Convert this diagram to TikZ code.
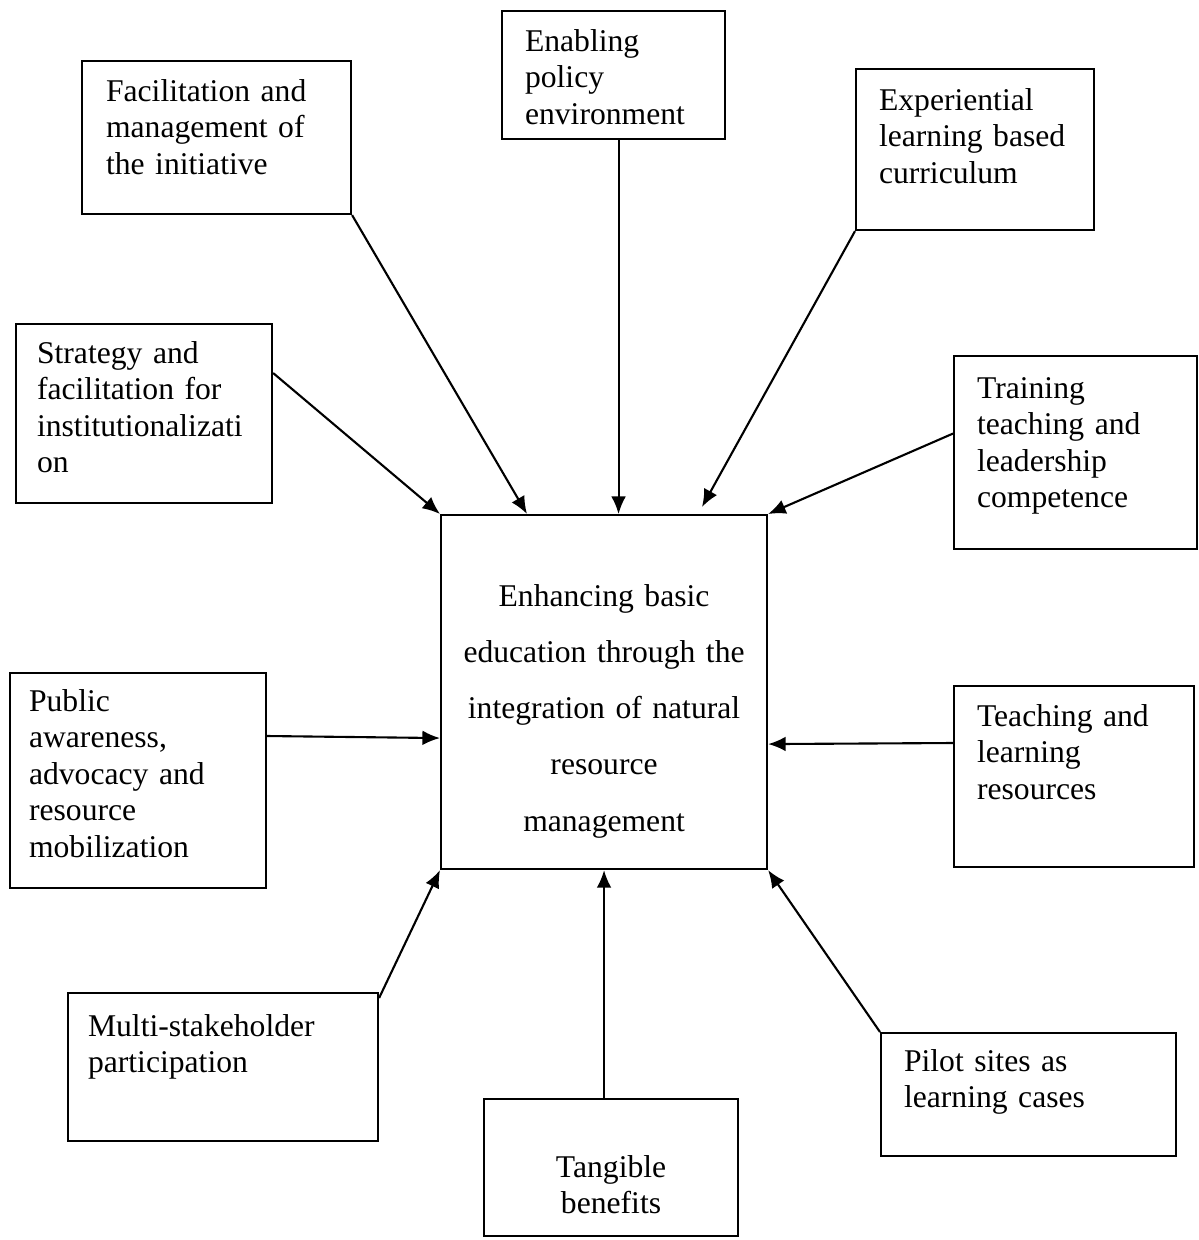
\documentclass[tikz,border=0pt]{standalone}
\usepackage{fontspec}
\setmainfont{Liberation Serif}
\usepackage{tikz}
\usetikzlibrary{arrows.meta,positioning,calc}

\tikzset{
  factor/.style={draw, semithick, anchor=north west, align=left, text height=0.22cm, font=\fontsize{9}{10.4}\selectfont},
  link/.style={-{Latex[length=5pt,width=4.2pt]}, semithick}
}

\begin{document}
\begin{tikzpicture}
            \useasboundingbox (0,0) rectangle (11.99,-12.40);

            \node[factor, text width=1.77cm, inner xsep=0.23cm, inner ysep=0.18cm, text depth=0.70cm] (enab) at (5.01,-0.10) {Enabling\\policy\\environment};
            \node[factor, text width=2.21cm, inner xsep=0.24cm, inner ysep=0.18cm, text depth=0.95cm] (fac) at (0.81,-0.60) {Facilitation and\\management of\\the initiative};
            \node[factor, text width=1.92cm, inner xsep=0.23cm, inner ysep=0.19cm, text depth=1.01cm] (exp) at (8.55,-0.68) {Experiential\\learning based\\curriculum};
            \node[factor, text width=2.14cm, inner xsep=0.21cm, inner ysep=0.17cm, text depth=1.23cm] (strat) at (0.15,-3.23) {Strategy and\\facilitation for\\institutionalizati\\on};
            \node[factor, text width=1.97cm, inner xsep=0.23cm, inner ysep=0.20cm, text depth=1.31cm] (train) at (9.53,-3.55) {Training\\teaching and\\leadership\\competence};
            \node[factor, align=center, text width=3.06cm, inner xsep=0.10cm, inner ysep=0.69cm, text depth=1.94cm, font=\fontsize{9}{16}\selectfont] (core) at (4.40,-5.14) {Enhancing basic\\education through the\\integration of natural\\resource\\management};
            \node[factor, text width=2.18cm, inner xsep=0.19cm, inner ysep=0.16cm, text depth=1.61cm] (pub) at (0.09,-6.72) {Public\\awareness,\\advocacy and\\resource\\mobilization};
            \node[factor, text width=1.94cm, inner xsep=0.23cm, inner ysep=0.18cm, text depth=1.23cm] (teach) at (9.53,-6.85) {Teaching and\\learning\\resources};
            \node[factor, text width=2.70cm, inner xsep=0.20cm, inner ysep=0.21cm, text depth=0.84cm] (multi) at (0.67,-9.92) {Multi-stakeholder\\participation};
            \node[factor, text width=2.49cm, inner xsep=0.23cm, inner ysep=0.16cm, text depth=0.69cm] (pilot) at (8.80,-10.32) {Pilot sites as\\learning cases};
            \node[factor, align=center, text width=2.34cm, inner xsep=0.10cm, inner ysep=0.56cm, text depth=0.03cm] (tang) at (4.83,-10.98) {Tangible\\benefits};

            % arrows into the central box
            \draw[link] (fac.south east) -- ([xshift=0.87cm]core.north west);
            \draw[link] ([xshift=0.05cm]enab.south) -- ([xshift=0.05cm]enab.south |- core.north);
            \draw[link] (exp.south west) -- ([xshift=2.62cm,yshift=0.07cm]core.north west);
            \draw[link] ([yshift=-0.50cm]strat.north east) -- (core.north west);
            \draw[link] ([yshift=0.19cm]train.west) -- (core.north east);
            \draw[link] ([yshift=-0.64cm]pub.north east) -- ([yshift=-0.46cm]core.west);
            \draw[link] ([yshift=-0.58cm]teach.north west) -- ([yshift=-0.52cm]core.east);
            \draw[link] ([yshift=-0.06cm]multi.north east) -- (core.south west);
            \draw[link] (tang.north -| core.south) -- (core.south);
            \draw[link] (pilot.north west) -- (core.south east);
        \end{tikzpicture}
\end{document}
